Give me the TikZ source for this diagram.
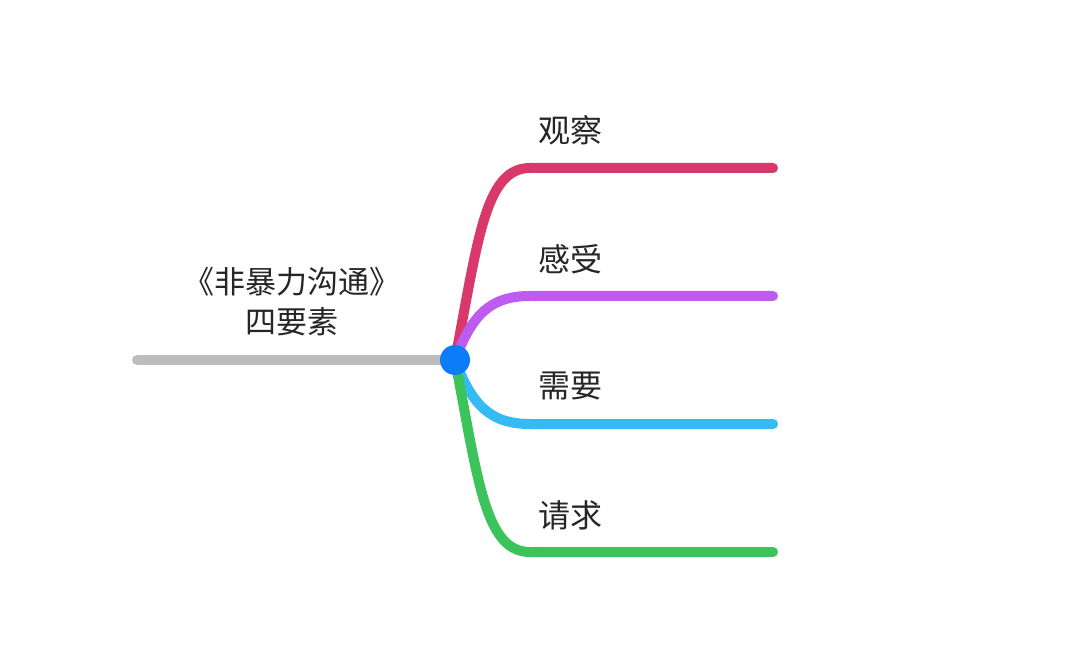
\documentclass[tikz,border=0pt]{standalone}
\usepackage{fontspec}
\setmainfont{Noto Sans CJK SC}
\begin{document}
\begin{tikzpicture}[x=1pt,y=-1pt,
  br/.style={line width=10pt,line cap=round},
  lbl/.style={font=\fontsize{32}{40}\selectfont,text=black!85}]
\definecolor{cred}{HTML}{D8386A}
\definecolor{cpur}{HTML}{BE5CF0}
\definecolor{ccya}{HTML}{36BAF4}
\definecolor{cgrn}{HTML}{3CC35C}
\definecolor{cgry}{HTML}{BDBDBD}
\definecolor{cblu}{HTML}{0B7DF8}
\useasboundingbox[fill=white] (0,0) rectangle (1080,655);
\coordinate (root) at (455,360);
\coordinate (start) at (137,360);
\coordinate (a) at (530,168); \coordinate (ae) at (773,168);
\coordinate (b) at (530,296); \coordinate (be) at (773,296);
\coordinate (c) at (530,424); \coordinate (ce) at (773,424);
\coordinate (d) at (530,552); \coordinate (de) at (773,552);
\draw[br,cgry] (start) -- (root);
\draw[br,cred] (root) .. controls (478,240) and (485,168) .. (a) -- (ae);
\draw[br,cpur] (root) .. controls (472,315) and (490,296) .. (b) -- (be);
\draw[br,ccya] (root) .. controls (472,405) and (490,424) .. (c) -- (ce);
\draw[br,cgrn] (root) .. controls (478,480) and (485,552) .. (d) -- (de);
\fill[cblu] (root) circle (15);
\node[lbl] (t1) at (570,130) {观察};
\node[lbl] (t2) at (570,259) {感受};
\node[lbl] (t3) at (570,386) {需要};
\node[lbl] (t4) at (570,515) {请求};
\node[lbl,align=center,font=\fontsize{31}{40}\selectfont] (title) at (292,302) {《非暴力沟通》\\四要素};
\end{tikzpicture}
\end{document}
